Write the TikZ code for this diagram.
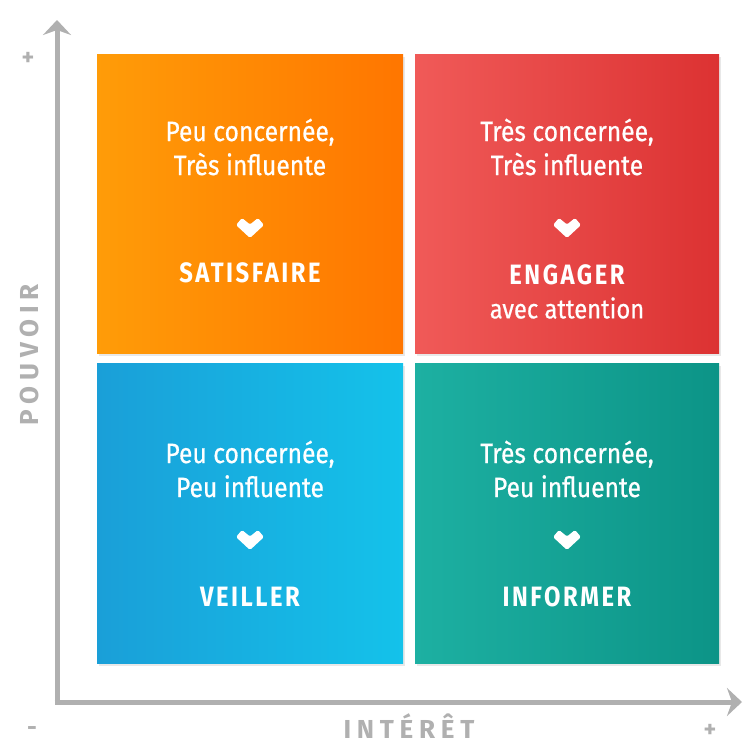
\documentclass[tikz,border=0pt]{standalone}
\usepackage{fontspec}
\setmainfont{Fira Sans}
\newfontfamily\cellfont[FakeStretch=0.88,FakeBold=0.6]{Fira Sans}
\newfontfamily\headfont[FakeStretch=0.85,LetterSpace=9]{Fira Sans}
\newfontfamily\axisfont[LetterSpace=22]{Fira Sans}
\usetikzlibrary{arrows.meta,shadows}
\definecolor{axisgray}{HTML}{B0B0B0}
\definecolor{orA}{HTML}{FF9C08}
\definecolor{orB}{HTML}{FF7600}
\definecolor{reA}{HTML}{F05A58}
\definecolor{reB}{HTML}{DC3232}
\definecolor{blA}{HTML}{1A9FD8}
\definecolor{blB}{HTML}{14C2EA}
\definecolor{teA}{HTML}{1DB0A2}
\definecolor{teB}{HTML}{0C9487}
\tikzset{
  cell/.style={draw=none, drop shadow={opacity=0.18, shadow xshift=2pt, shadow yshift=-3pt}},
  celltext/.style={text=white, align=center, font=\cellfont\fontsize{28}{34}\selectfont},
  headtext/.style={text=white, align=center, font=\headfont\bfseries\fontsize{28}{31}\selectfont},
  subtext/.style={text=white, align=center, font=\cellfont\fontsize{27}{31}\selectfont},
  axisline/.style={draw=axisgray, line width=5pt},
  axislabel/.style={text=axisgray, font=\axisfont\bfseries\fontsize{26}{30}\selectfont},
  signlabel/.style={text=axisgray, font=\bfseries\fontsize{24}{24}\selectfont},
}
\newcommand{\chev}[2]{%
  \fill[white, rounded corners=1.5pt] (#1-14,#2-3) -- (#1-8,#2-10) -- (#1,#2-3.5) -- (#1+8,#2-10) -- (#1+14,#2-3) -- (#1,#2+10) -- cycle;}
\begin{document}
\begin{tikzpicture}[x=1pt,y=-1pt]
\useasboundingbox (0,0) rectangle (743,745);
\fill[white] (0,0) rectangle (743,745);
% axes
\coordinate (O) at (57,702);
\coordinate (Ytop) at (57,20);
\coordinate (Xend) at (742,702);
\draw[axisline, -{Stealth[length=15pt,width=28pt,inset=5pt]}] (O) -- (Ytop);
\draw[axisline, -{Stealth[length=15pt,width=28pt,inset=5pt]}] ([xshift=-2.5pt]O) -- (Xend);
% cells
\path[cell, left color=orA, right color=orB] (97,54) rectangle (403,353);
\path[cell, left color=reA, right color=reB] (415,54) rectangle (719,353);
\path[cell, left color=blA, right color=blB] (97,363) rectangle (403,663);
\path[cell, left color=teA, right color=teB] (415,363) rectangle (719,663);
% top-left
\node[celltext] (tl1) at (250,147) {Peu concernée,\\Très influente};
\chev{250}{228}
\node[headtext] (tlh) at (250,273) {SATISFAIRE};
% top-right
\node[celltext] (tr1) at (567,147) {Très concernée,\\Très influente};
\chev{567}{228}
\node[headtext] (trh) at (567,275) {ENGAGER};
\node[subtext] (trs) at (567,308) {avec attention};
% bottom-left
\node[celltext] (bl1) at (250,469) {Peu concernée,\\Peu influente};
\chev{250}{540}
\node[headtext] (blh) at (250,597) {VEILLER};
% bottom-right
\node[celltext] (br1) at (567,469) {Très concernée,\\Peu influente};
\chev{567}{540}
\node[headtext] (brh) at (567,597) {INFORMER};
% axis labels
\node[axislabel, rotate=90] (pouv) at (29,355) {POUVOIR};
\node[axislabel] (inter) at (409,726) {INTÉRÊT};
\node[signlabel] (yplus) at (28,59) {+};
\node[signlabel] (xminus) at (32,731) {-};
\node[signlabel] (xplus) at (710,731) {+};
\end{tikzpicture}
\end{document}
